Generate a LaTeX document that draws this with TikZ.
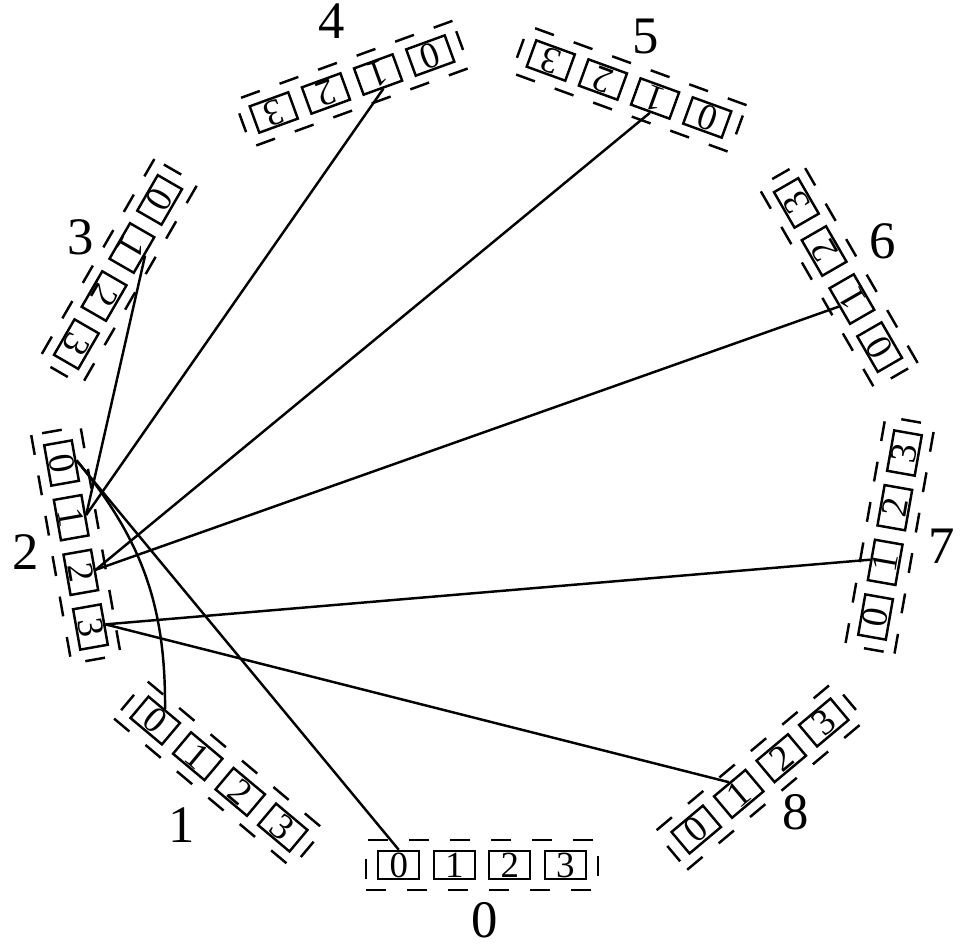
\documentclass[tikz,border=0pt]{standalone}
\usepackage{fontspec}
\setmainfont{Liberation Serif}
\usepackage{tikz}

\begin{document}
\begin{tikzpicture}[x=0.1mm, y=0.1mm, line width=0.7pt,
  portbox/.style={draw, transform shape, minimum width=4.1mm, minimum height=2.8mm, inner sep=0pt, font=\fontsize{10.5}{12}\selectfont},
  grpframe/.style={dash pattern=on 2mm off 2.1mm},
  grplabel/.style={font=\fontsize{15}{18}\selectfont},
  wire/.style={line width=0.7pt}]
  \useasboundingbox (0,0) rectangle (961,-945);

  % Groups on the ring
  \foreach \k/\gx/\gy/\lx/\ly in {0/482/865/485/920, 1/219/774/182/825,
      2/76/545/26/552, 3/118/272/81/237, 4/352/84/332/21, 5/629/89/646/36,
      6/838/275/883/241, 7/890/535/942/546, 8/760/776/796/812}{
    \begin{scope}[shift={(\gx,-\gy)}, rotate=-40*\k]
      \draw[grpframe] (-116,-25) -- (116,-25) -- (116,25) -- (-116,25) -- cycle;
      \foreach \i in {0,...,3}
        \node[portbox] (g\k-\i) at (-83.25+55.5*\i,0) {\i};
    \end{scope}
    \node[grplabel] (l\k) at (\lx,-\ly) {\k};
  }

  % Links out of group 2
  \draw[wire] (g2-0.north) to[bend left=20] (g1-0.north);
  \draw[wire] (g2-0.north) -- (g0-0.north);
  \draw[wire] (g2-1.north) -- (g3-1.north);
  \draw[wire] (g2-1.north) -- (g4-1.north);
  \draw[wire] (g2-2.north) -- (g5-1.north);
  \draw[wire] (g2-2.north) -- (g6-1.north);
  \draw[wire] (g2-3.north) -- (g7-1.north);
  \draw[wire] (g2-3.north) -- (g8-1.north);
\end{tikzpicture}
\end{document}
